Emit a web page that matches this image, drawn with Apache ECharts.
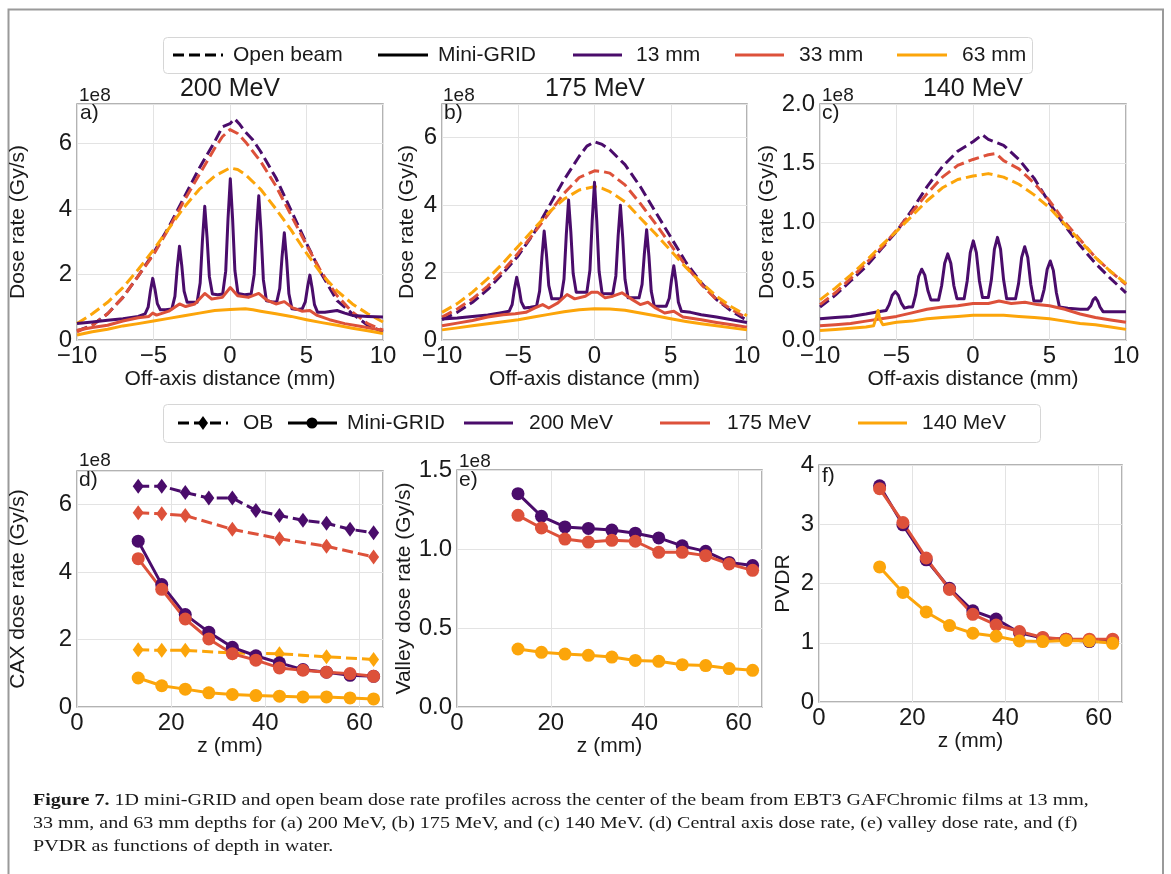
<!DOCTYPE html>
<html><head><meta charset="utf-8">
<script src="https://cdn.jsdelivr.net/npm/echarts@6/dist/echarts.min.js"></script>
<style>html,body{margin:0;padding:0;background:#fff}#c{width:1171px;height:874px}</style>
</head><body><div id="c"></div>
<script>
// ---------- DATA (dose rates in units of 1e8 Gy/s) ----------
const OFFSET_LABEL = '1e8';
const panelTitles = ['200 MeV', '175 MeV', '140 MeV'];
const depthNames = ['13 mm', '33 mm', '63 mm'];
const energyNames = ['200 MeV', '175 MeV', '140 MeV'];

// Panel a) 200 MeV profiles [off-axis mm, dose rate]
const a_ob13 = [[-10,0.28],[-9,0.45],[-8,0.8],[-7,1.3],[-6,1.95],[-5,2.65],[-4,3.45],[-3,4.35],[-2,5.25],[-1,6.05],[-0.5,6.5],[0,6.6],[0.3,6.75],[0.6,6.6],[1,6.35],[1.5,6.1],[2,5.75],[3,4.95],[4,3.95],[5,2.95],[6,2.0],[7,1.2],[8,0.8],[9,0.45],[10,0.25]];
const a_ob33 = [[-10,0.25],[-9,0.45],[-8,0.8],[-7,1.3],[-6,1.95],[-5,2.6],[-4,3.4],[-3,4.25],[-2,5.05],[-1,5.85],[-0.5,6.2],[0,6.42],[0.5,6.3],[1,6.05],[2,5.45],[3,4.7],[4,3.8],[5,2.9],[6,2.05],[7,1.35],[8,0.85],[9,0.5],[10,0.3]];
const a_ob63 = [[-10,0.5],[-9,0.8],[-8,1.15],[-7,1.6],[-6,2.15],[-5,2.75],[-4,3.4],[-3,4.05],[-2,4.6],[-1,5.0],[0,5.25],[0.5,5.2],[1,5.05],[2,4.6],[3,4.0],[4,3.35],[5,2.65],[6,2.0],[7,1.5],[8,1.1],[9,0.8],[10,0.55]];
const a_mg13 = [[-10,0.5],[-9,0.55],[-8,0.6],[-7,0.65],[-6,0.72],
  [-5.55,0.8],[-5.35,1.0],[-5.2,1.5],[-5.05,1.88],[-4.9,1.54],[-4.75,1.11],[-4.55,0.92],[-4.2,0.92],
  [-3.8,0.95],[-3.6,1.33],[-3.45,2.19],[-3.3,2.86],[-3.15,2.26],[-3.0,1.49],[-2.8,1.15],[-2.5,1.15],
  [-2.15,1.15],[-1.95,1.74],[-1.8,3.05],[-1.65,4.08],[-1.5,3.14],[-1.35,1.94],[-1.15,1.4],[-0.8,1.38],
  [-0.48,1.4],[-0.28,2.1],[-0.13,3.69],[0.02,4.92],[0.17,3.69],[0.32,2.12],[0.52,1.42],[0.95,1.38],
  [1.38,1.4],[1.58,2.0],[1.73,3.35],[1.88,4.4],[2.03,3.28],[2.18,1.84],[2.38,1.2],[2.7,1.17],
  [3.05,1.15],[3.25,1.57],[3.4,2.53],[3.55,3.27],[3.7,2.46],[3.85,1.41],[4.05,0.95],[4.4,0.93],
  [4.72,0.95],[4.92,1.16],[5.07,1.62],[5.22,1.98],[5.37,1.58],[5.52,1.08],[5.72,0.85],
  [6.2,0.85],[7,0.9],[7.5,0.82],[8,0.75],[9,0.72],[10,0.7]];
const a_mg33 = [[-10,0.3],[-9,0.38],[-8,0.45],[-7,0.58],[-6,0.68],[-5.3,0.72],[-5.05,0.82],[-4.8,0.76],[-4,0.88],[-3.3,1.1],[-2.9,1.02],[-2.3,1.1],[-1.65,1.42],[-1.2,1.25],[-0.5,1.3],[0.02,1.6],[0.5,1.35],[1.2,1.3],[1.88,1.42],[2.4,1.22],[3,1.1],[3.55,1.17],[4.1,0.98],[4.7,0.88],[5.22,0.9],[5.7,0.75],[6.5,0.62],[7.5,0.5],[8.5,0.42],[9.3,0.35],[10,0.3]];
const a_mg63 = [[-10,0.15],[-9,0.25],[-8,0.33],[-7,0.43],[-6,0.5],[-5,0.58],[-4,0.66],[-3,0.74],[-2,0.82],[-1,0.9],[0,0.93],[1,0.95],[1.5,0.92],[2,0.88],[3,0.8],[4,0.72],[5,0.62],[6,0.53],[7,0.45],[8,0.36],[9,0.28],[10,0.2]];

// Panel b) 175 MeV profiles
const b_ob13 = [[-10,0.6],[-9,0.82],[-8,1.12],[-7,1.5],[-6,1.98],[-5,2.5],[-4,3.15],[-3,3.95],[-2,4.75],[-1,5.45],[-0.5,5.75],[0,5.88],[0.5,5.8],[1,5.65],[2,5.2],[3,4.55],[4,3.8],[5,3.05],[6,2.3],[7,1.7],[8,1.2],[9,0.85],[10,0.58]];
const b_ob33 = [[-10,0.68],[-9,0.92],[-8,1.22],[-7,1.6],[-6,2.05],[-5,2.58],[-4,3.15],[-3,3.75],[-2,4.35],[-1,4.82],[0,5.02],[0.5,5.0],[1,4.95],[2,4.6],[3,4.05],[4,3.45],[5,2.82],[6,2.2],[7,1.65],[8,1.2],[9,0.9],[10,0.65]];
const b_ob63 = [[-10,0.82],[-9,1.08],[-8,1.42],[-7,1.82],[-6,2.28],[-5,2.78],[-4,3.28],[-3,3.78],[-2,4.18],[-1,4.45],[0,4.55],[0.5,4.5],[1,4.4],[2,4.1],[3,3.62],[4,3.15],[5,2.65],[6,2.15],[7,1.7],[8,1.3],[9,0.98],[10,0.72]];
const b_mg13 = [[-10,0.62],[-9,0.65],[-8,0.7],[-7,0.74],[-6.2,0.8],
  [-5.6,0.85],[-5.4,1.05],[-5.25,1.51],[-5.1,1.86],[-4.95,1.54],[-4.8,1.13],[-4.6,0.95],[-4.2,0.97],
  [-3.8,1.0],[-3.6,1.45],[-3.45,2.45],[-3.3,3.23],[-3.15,2.53],[-3.0,1.62],[-2.8,1.22],[-2.5,1.22],
  [-2.2,1.22],[-2.0,1.81],[-1.85,3.12],[-1.7,4.15],[-1.55,3.19],[-1.4,1.97],[-1.2,1.42],[-0.85,1.42],
  [-0.5,1.42],[-0.3,2.07],[-0.15,3.54],[0,4.68],[0.15,3.53],[0.3,2.04],[0.5,1.38],[0.85,1.37],
  [1.2,1.38],[1.4,1.9],[1.55,3.08],[1.7,4.0],[1.85,3.04],[2.0,1.8],[2.2,1.25],[2.55,1.25],
  [2.92,1.25],[3.12,1.65],[3.27,2.56],[3.42,3.27],[3.57,2.48],[3.72,1.45],[3.92,1.0],[4.3,1.0],
  [4.7,1.0],[4.9,1.24],[5.05,1.78],[5.2,2.2],[5.35,1.73],[5.5,1.12],[5.7,0.85],
  [6.3,0.82],[7,0.75],[8,0.68],[9,0.6],[10,0.52]];
const b_mg33 = [[-10,0.42],[-9,0.5],[-8,0.58],[-7,0.68],[-6,0.75],[-5.2,0.78],[-4.5,0.82],[-3.9,0.95],[-3.4,1.05],[-3,0.95],[-2.4,1.1],[-1.8,1.35],[-1.3,1.22],[-0.6,1.3],[-0.2,1.42],[0.2,1.42],[0.7,1.25],[1.2,1.3],[1.8,1.4],[2.4,1.22],[3,1.05],[3.5,1.12],[4.0,0.95],[4.6,0.8],[5.2,0.85],[5.8,0.68],[7,0.6],[8,0.52],[9,0.45],[10,0.38]];
const b_mg63 = [[-10,0.3],[-9,0.36],[-8,0.42],[-7,0.48],[-6,0.54],[-5,0.6],[-4,0.68],[-3,0.76],[-2,0.84],[-1,0.9],[0,0.93],[1,0.92],[2,0.88],[3,0.8],[4,0.72],[5,0.63],[6,0.55],[7,0.48],[8,0.42],[9,0.36],[10,0.3]];

// Panel c) 140 MeV profiles
const c_ob13 = [[-10,0.28],[-9,0.38],[-8,0.5],[-7,0.62],[-6,0.77],[-5,0.92],[-4,1.1],[-3,1.3],[-2,1.47],[-1,1.6],[0,1.68],[0.6,1.74],[1,1.7],[2,1.65],[3,1.53],[4,1.37],[5,1.16],[6,0.97],[7,0.8],[8,0.65],[9,0.52],[10,0.4]];
const c_ob33 = [[-10,0.3],[-9,0.4],[-8,0.52],[-7,0.65],[-6,0.78],[-5,0.93],[-4,1.08],[-3,1.24],[-2,1.38],[-1,1.48],[0,1.53],[1,1.57],[1.5,1.58],[2,1.52],[3,1.45],[4,1.33],[5,1.18],[6,1.0],[7,0.85],[8,0.7],[9,0.58],[10,0.47]];
const c_ob63 = [[-10,0.34],[-9,0.44],[-8,0.55],[-7,0.67],[-6,0.8],[-5,0.92],[-4,1.05],[-3,1.18],[-2,1.29],[-1,1.36],[0,1.39],[1,1.41],[2,1.38],[3,1.32],[4,1.23],[5,1.12],[6,0.98],[7,0.84],[8,0.7],[9,0.58],[10,0.48]];
const c_mg13 = [[-10,0.18],[-9,0.19],[-8,0.2],[-7,0.22],[-6.2,0.24],
  [-5.68,0.25],[-5.48,0.3],[-5.28,0.38],[-5.08,0.41],[-4.88,0.38],[-4.68,0.31],[-4.48,0.27],[-4.2,0.28],
  [-3.95,0.28],[-3.75,0.38],[-3.55,0.54],[-3.35,0.6],[-3.15,0.55],[-2.95,0.42],[-2.75,0.34],[-2.5,0.34],
  [-2.25,0.34],[-2.05,0.46],[-1.85,0.65],[-1.65,0.73],[-1.45,0.65],[-1.25,0.46],[-1.05,0.35],[-0.8,0.35],
  [-0.58,0.35],[-0.38,0.5],[-0.18,0.74],[0.02,0.84],[0.22,0.74],[0.42,0.5],[0.62,0.36],[0.8,0.36],
  [1.0,0.36],[1.2,0.51],[1.4,0.77],[1.6,0.87],[1.8,0.77],[2.0,0.51],[2.2,0.35],[2.5,0.35],
  [2.78,0.35],[2.98,0.48],[3.18,0.7],[3.38,0.79],[3.58,0.7],[3.78,0.47],[3.98,0.33],[4.2,0.33],
  [4.45,0.33],[4.65,0.43],[4.85,0.6],[5.05,0.67],[5.25,0.59],[5.45,0.4],[5.65,0.28],
  [6.2,0.27],[7,0.26],
  [7.5,0.26],[7.7,0.29],[7.85,0.34],[8.0,0.36],[8.15,0.33],[8.3,0.28],[8.5,0.24],
  [9,0.24],[10,0.24]];
const c_mg33 = [[-10,0.12],[-9,0.13],[-8,0.14],[-7,0.16],[-6,0.18],[-5,0.2],[-4,0.23],[-3,0.26],[-2,0.28],[-1,0.29],[0,0.31],[1,0.31],[1.7,0.33],[2.5,0.31],[3.4,0.32],[4.2,0.3],[5,0.29],[6,0.26],[7,0.22],[8,0.19],[9,0.17],[10,0.15]];
const c_mg63 = [[-10,0.08],[-9,0.09],[-8,0.1],[-7,0.11],[-6.5,0.12],[-6.3,0.2],[-6.2,0.25],[-6.1,0.18],[-5.9,0.13],[-5,0.15],[-4,0.16],[-3,0.18],[-2,0.19],[-1,0.2],[0,0.21],[1,0.21],[2,0.21],[3,0.2],[4,0.19],[5,0.18],[6,0.16],[7,0.14],[8,0.13],[9,0.11],[10,0.09]];

// Bottom row: depth z (mm)
const zAll = [13,18,23,28,33,38,43,48,53,58,63];
const zOB = [13,18,23,33,43,53,63];
// d) central-axis dose rate
const d_ob200 = [6.55,6.55,6.36,6.2,6.2,5.83,5.68,5.54,5.45,5.27,5.17];
const d_ob175 = [5.76,5.73,5.68,5.27,4.99,4.77,4.45];
const d_ob140 = [1.7,1.68,1.68,1.6,1.58,1.49,1.41];
const d_mg200 = [4.92,3.63,2.74,2.22,1.77,1.52,1.31,1.11,1.03,0.94,0.91];
const d_mg175 = [4.4,3.49,2.61,2.02,1.58,1.39,1.16,1.09,1.03,0.99,0.91];
const d_mg140 = [0.86,0.63,0.53,0.42,0.37,0.34,0.32,0.3,0.3,0.27,0.24];
// e) valley dose rate
const e_200 = [1.35,1.207,1.14,1.13,1.12,1.10,1.07,1.02,0.985,0.915,0.895];
const e_175 = [1.213,1.133,1.063,1.044,1.055,1.049,0.979,0.979,0.958,0.905,0.865];
const e_140 = [0.367,0.346,0.335,0.327,0.316,0.295,0.289,0.268,0.262,0.243,0.232];
// f) PVDR
const f_200 = [3.65,2.99,2.4,1.92,1.54,1.4,1.17,1.08,1.06,1.02,1.02];
const f_175 = [3.6,3.03,2.43,1.9,1.48,1.3,1.19,1.09,1.06,1.06,1.06];
const f_140 = [2.28,1.85,1.52,1.29,1.16,1.11,1.03,1.02,1.04,1.03,0.99];

// ---------- STYLE ----------
const FONT = "'Liberation Sans', Arial, sans-serif";
const PURPLE = '#4a0c6b', RED = '#dd513a', ORANGE = '#fca50a';
const COLORS = [PURPLE, RED, ORANGE];
const TXT = '#1a1a1a';

const chart = echarts.init(document.getElementById('c'), null, {renderer: 'canvas'});

const grids = [
  {left: 77, top: 104, width: 306, height: 236},
  {left: 442, top: 104, width: 305, height: 236},
  {left: 820, top: 104, width: 306, height: 236},
  {left: 77, top: 471, width: 306, height: 236},
  {left: 457, top: 470, width: 305, height: 237},
  {left: 819, top: 465, width: 303, height: 237}
].map(g => Object.assign({show: true, borderColor: '#9a9a9a', borderWidth: 1.5, backgroundColor: '#fff'}, g));

const minus = v => (v < 0 ? '\u2212' + (-v) : String(v));
const TICK = 24;
const split = {show: true, lineStyle: {color: '#e3e3e3', width: 1}};

function xAx(i, top) {
  return {
    gridIndex: i, type: 'value',
    min: top ? -10 : 0, max: top ? 10 : 65, interval: top ? 5 : 20,
    axisLine: {show: false}, axisTick: {show: false}, splitLine: split,
    axisLabel: {color: TXT, fontSize: TICK, fontFamily: FONT, margin: 4, formatter: minus, showMaxLabel: top ? true : false, showMinLabel: true},
    name: top ? 'Off-axis distance (mm)' : 'z (mm)', nameLocation: 'middle',
    nameGap: top ? 29 : 27,
    nameTextStyle: {color: TXT, fontSize: 21, fontFamily: FONT}
  };
}
function yAx(i, max, interval, name, gap, dec) {
  return {
    gridIndex: i, type: 'value', min: 0, max: max, interval: interval,
    axisLine: {show: false}, axisTick: {show: false}, splitLine: split,
    axisLabel: {color: TXT, fontSize: TICK, fontFamily: FONT, margin: 5,
      formatter: v => dec ? v.toFixed(1) : String(v),
      showMaxLabel: (max % interval === 0)},
    name: name, nameLocation: 'middle', nameGap: gap,
    nameTextStyle: {color: TXT, fontSize: 21, fontFamily: FONT}
  };
}

const xAxes = [xAx(0, true), xAx(1, true), xAx(2, true), xAx(3, false), xAx(4, false), xAx(5, false)];
xAxes[5].nameGap = 29;
const yAxes = [
  yAx(0, 7.2, 2, 'Dose rate (Gy/s)', 48, false),
  yAx(1, 7, 2, 'Dose rate (Gy/s)', 24, false),
  yAx(2, 2, 0.5, 'Dose rate (Gy/s)', 40, true),
  yAx(3, 7, 2, 'CAX dose rate (Gy/s)', 48, false),
  yAx(4, 1.5, 0.5, 'Valley dose rate (Gy/s)', 37, true),
  yAx(5, 4, 1, 'PVDR', 25, false)
];

const series = [];
function prof(i, data, color, dashed) {
  series.push({
    type: 'line', xAxisIndex: i, yAxisIndex: i, data: data, symbol: 'none',
    lineStyle: {color: color, width: 3, type: dashed ? [11, 5] : 'solid', join: 'round'},
    animation: false, silent: true
  });
}
const profiles = [
  [a_ob13, a_ob33, a_ob63, a_mg13, a_mg33, a_mg63],
  [b_ob13, b_ob33, b_ob63, b_mg13, b_mg33, b_mg63],
  [c_ob13, c_ob33, c_ob63, c_mg13, c_mg33, c_mg63]
];
profiles.forEach((p, i) => {
  for (let k = 0; k < 3; k++) prof(i, p[k], COLORS[k], true);
  for (let k = 0; k < 3; k++) prof(i, p[3 + k], COLORS[k], false);
});

function pts(zs, vs) { return zs.map((z, j) => [z, vs[j]]); }
function mark(i, data, color, dashed) {
  series.push({
    type: 'line', xAxisIndex: i, yAxisIndex: i, data: data,
    symbol: dashed ? 'diamond' : 'circle', symbolSize: dashed ? [11, 15] : 13,
    itemStyle: {color: color, borderWidth: 0},
    lineStyle: {color: color, width: 3, type: dashed ? [11, 5] : 'solid'},
    animation: false, silent: true
  });
}
mark(3, pts(zAll, d_ob200), PURPLE, true);
mark(3, pts(zOB, d_ob175), RED, true);
mark(3, pts(zOB, d_ob140), ORANGE, true);
mark(3, pts(zAll, d_mg200), PURPLE, false);
mark(3, pts(zAll, d_mg175), RED, false);
mark(3, pts(zAll, d_mg140), ORANGE, false);
mark(4, pts(zAll, e_200), PURPLE, false);
mark(4, pts(zAll, e_175), RED, false);
mark(4, pts(zAll, e_140), ORANGE, false);
mark(5, pts(zAll, f_200), PURPLE, false);
mark(5, pts(zAll, f_175), RED, false);
mark(5, pts(zAll, f_140), ORANGE, false);

// ---------- annotation graphics ----------
const g = [];
function txt(x, y, s, size, extra, sx) {
  g.push({type: 'text', x: x, y: y, silent: true, z: 100, scaleX: sx || 1,
    style: Object.assign({text: s, fill: TXT, font: size + 'px ' + FONT, verticalAlign: 'middle', align: 'left'}, extra || {})});
}
function seg(x1, x2, y, color, dashed) {
  g.push({type: 'line', silent: true, z: 100, shape: {x1: x1, y1: y, x2: x2, y2: y},
    style: {stroke: color, lineWidth: 3, lineDash: dashed ? [11, 5] : null}});
}
// outer frame
g.push({type: 'rect', silent: true, z: 0, shape: {x: 8.5, y: 9.5, width: 1154.5, height: 880}, style: {fill: null, stroke: '#9a9a9a', lineWidth: 2}});

// titles
txt(230, 89, panelTitles[0], 25, {align: 'center'});
txt(595, 89, panelTitles[1], 25, {align: 'center'});
txt(973, 89, panelTitles[2], 25, {align: 'center'});
// offset labels
txt(79, 96, OFFSET_LABEL, 19); txt(443, 96, OFFSET_LABEL, 19); txt(822, 96, OFFSET_LABEL, 19);
txt(79, 461, OFFSET_LABEL, 19); txt(459, 462, OFFSET_LABEL, 19);
// panel letters
txt(80, 113, 'a)', 21); txt(444, 113, 'b)', 21); txt(822, 113, 'c)', 21);
txt(79, 480, 'd)', 21); txt(459, 480, 'e)', 21); txt(822, 476, 'f)', 21);

// legend 1
g.push({type: 'rect', silent: true, z: 90, shape: {x: 163.5, y: 37.5, width: 869, height: 36, r: 4}, style: {fill: '#fff', stroke: '#d6d6d6', lineWidth: 1}});
seg(173, 223, 55, '#000', true); txt(233, 55, 'Open beam', 21);
seg(378, 428, 55, '#000', false); txt(438, 55, 'Mini-GRID', 21);
seg(573, 622, 55, PURPLE, false); txt(636, 55, depthNames[0], 21);
seg(735, 784, 55, RED, false); txt(799, 55, depthNames[1], 21);
seg(897, 947, 55, ORANGE, false); txt(962, 55, depthNames[2], 21);

// legend 2
g.push({type: 'rect', silent: true, z: 90, shape: {x: 163.5, y: 404.5, width: 877, height: 38, r: 4}, style: {fill: '#fff', stroke: '#d6d6d6', lineWidth: 1}});
seg(178, 228, 423, '#000', true);
g.push({type: 'polygon', silent: true, z: 101, shape: {points: [[203, 416], [208, 423], [203, 430], [198, 423]]}, style: {fill: '#000'}});
txt(243, 423, 'OB', 21);
seg(288, 337, 423, '#000', false);
g.push({type: 'circle', silent: true, z: 101, shape: {cx: 312, cy: 423, r: 5.5}, style: {fill: '#000'}});
txt(347, 423, 'Mini-GRID', 21);
seg(464, 513, 423, PURPLE, false); txt(529, 423, energyNames[0], 21);
seg(660, 710, 423, RED, false); txt(727, 423, energyNames[1], 21);
seg(858, 907, 423, ORANGE, false); txt(922, 423, energyNames[2], 21);

// caption
const SERIF = "'Liberation Serif', 'DejaVu Serif', serif";
const CAP_SX = 1.18;
g.push({type: 'text', x: 33, y: 801, silent: true, z: 100, scaleX: CAP_SX, style: {
  text: '{b|Figure 7.} 1D mini-GRID and open beam dose rate profiles across the center of the beam from EBT3 GAFChromic films at 13 mm,',
  fill: TXT, font: '17px ' + SERIF, verticalAlign: 'middle',
  rich: {b: {fontWeight: 'bold', fontSize: 17, fontFamily: SERIF, fill: TXT}}}});
txt(33, 824, '33 mm, and 63 mm depths for (a) 200 MeV, (b) 175 MeV, and (c) 140 MeV. (d) Central axis dose rate, (e) valley dose rate, and (f)', 17, {font: '17px ' + SERIF}, CAP_SX);
txt(33, 847, 'PVDR as functions of depth in water.', 17, {font: '17px ' + SERIF}, CAP_SX);

chart.setOption({
  animation: false,
  backgroundColor: '#fff',
  textStyle: {fontFamily: FONT},
  grid: grids, xAxis: xAxes, yAxis: yAxes, series: series, graphic: g
});
</script></body></html>
